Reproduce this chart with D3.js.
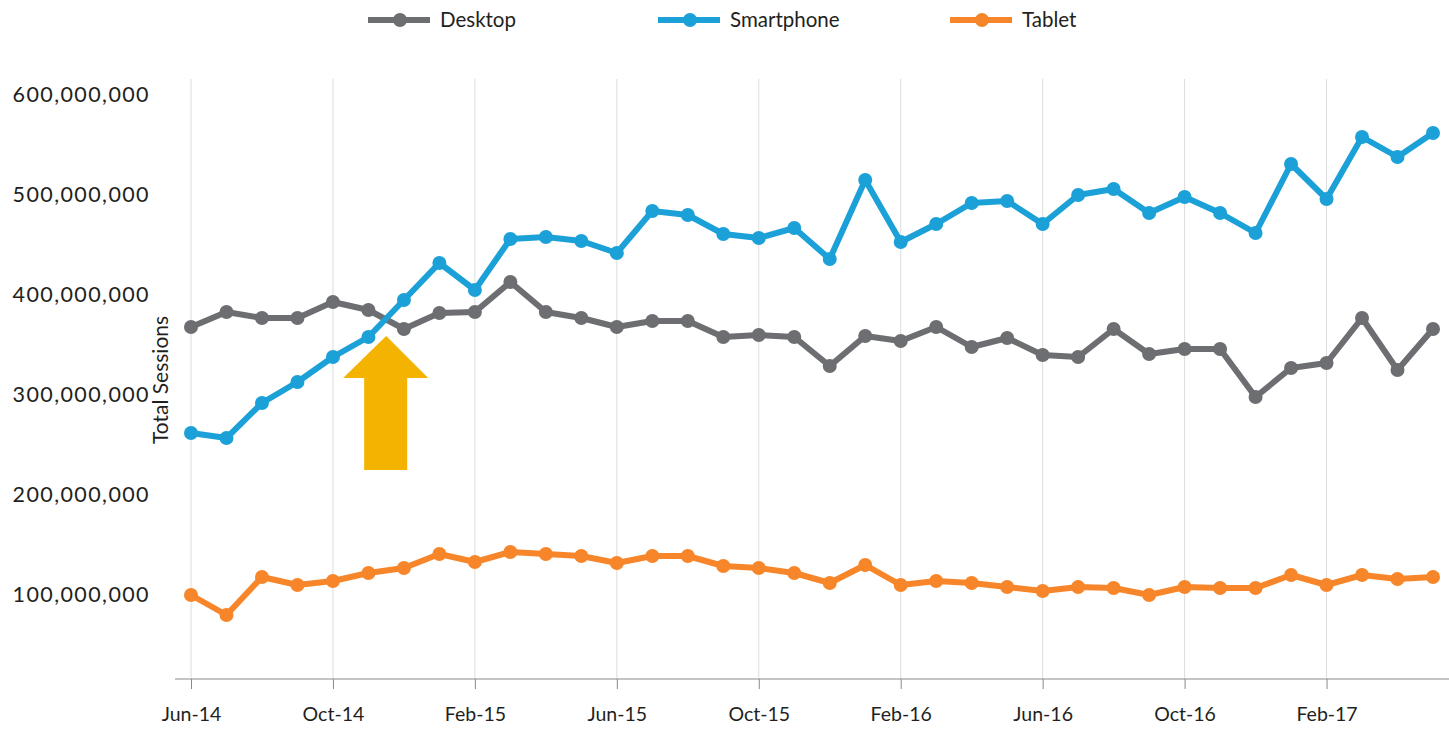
<!DOCTYPE html>
<html>
<head>
<meta charset="utf-8">
<script src="https://cdn.jsdelivr.net/npm/d3@7"></script>
<style>
  body { margin: 0; background: #fff; }
  svg text { font-family: Lato, "Open Sans", sans-serif; fill: #231f20; }
</style>
</head>
<body>
<div id="chart"></div>
<script>
// monthly sessions, Jun-14 .. May-17 (millions)
var months = ["Jun-14","Jul-14","Aug-14","Sep-14","Oct-14","Nov-14","Dec-14","Jan-15","Feb-15","Mar-15","Apr-15","May-15",
              "Jun-15","Jul-15","Aug-15","Sep-15","Oct-15","Nov-15","Dec-15","Jan-16","Feb-16","Mar-16","Apr-16","May-16",
              "Jun-16","Jul-16","Aug-16","Sep-16","Oct-16","Nov-16","Dec-16","Jan-17","Feb-17","Mar-17","Apr-17","May-17"];

var desktop = [368,383,377,377,393,385,366,382,383,413,383,377,
               368,374,374,358,360,358,329,359,354,368,348,357,
               340,338,366,341,346,346,298,327,332,377,325,366];

var smartphone = [262,257,292,313,338,358,395,432,405,456,458,454,
                  442,484,480,461,457,467,436,515,453,471,492,494,
                  471,500,506,482,498,482,462,531,496,558,538,562];

var tablet = [100,80,118,110,114,122,127,141,133,143,141,139,
              132,139,139,129,127,122,112,130,110,114,112,108,
              104,108,107,100,108,107,107,120,110,120,116,118];

var seriesNames = ["Desktop", "Smartphone", "Tablet"];
var seriesColors = ["#6d6e71", "#1ba1d8", "#f7862a"];
var yTicks = [100, 200, 300, 400, 500, 600];
var xTickEvery = 4;

var width = 1449, height = 729;

var svg = d3.select("#chart").append("svg")
  .attr("width", width)
  .attr("height", height);

var x = d3.scaleLinear()
  .domain([0, months.length - 1])
  .range([191, 1433]);

var y = d3.scaleLinear()
  .domain([16, 616])
  .range([679, 79]);

var xTickIdx = d3.range(0, months.length, xTickEvery);

// vertical gridlines
svg.append("g").selectAll("line")
  .data(xTickIdx).enter()
  .append("line")
  .attr("x1", function(d) { return x(d); })
  .attr("x2", function(d) { return x(d); })
  .attr("y1", y(616))
  .attr("y2", y(16))
  .style("stroke", "#dcdcdc")
  .style("stroke-width", 1);

// x axis
var xAxis = d3.axisBottom(x)
  .tickValues(xTickIdx)
  .tickFormat(function(i) { return months[i]; })
  .tickSizeInner(10)
  .tickSizeOuter(0)
  .tickPadding(18);

var gx = svg.append("g")
  .attr("transform", "translate(0," + y(16) + ")")
  .call(xAxis);
gx.select(".domain").remove();
gx.selectAll(".tick line").style("stroke", "#8a8a8a");
gx.selectAll("text").style("font-size", "19.5px");
gx.append("line")
  .attr("x1", 175).attr("x2", width)
  .style("stroke", "#8a8a8a")
  .style("stroke-width", 1.2);

// y axis labels
var yAxis = d3.axisLeft(y)
  .tickValues(yTicks)
  .tickFormat(function(d) { return d3.format(",")(d * 1e6); })
  .tickSize(0)
  .tickPadding(0);

var gy = svg.append("g")
  .attr("transform", "translate(150,0)")
  .call(yAxis);
gy.select(".domain").remove();
gy.selectAll("text")
  .style("font-size", "21.5px")
  .style("letter-spacing", "1.4px");

svg.append("text")
  .attr("transform", "translate(168," + 380 + ") rotate(-90)")
  .attr("text-anchor", "middle")
  .style("font-size", "21px")
  .text("Total Sessions");

// lines and markers
var line = d3.line()
  .x(function(d, i) { return x(i); })
  .y(function(d) { return y(d); });

[desktop, smartphone, tablet].forEach(function(vals, k) {
  var g = svg.append("g");
  g.append("path")
    .attr("d", line(vals))
    .style("fill", "none")
    .style("stroke", seriesColors[k])
    .style("stroke-width", 6)
    .style("stroke-linejoin", "round");
  g.selectAll("circle")
    .data(vals).enter()
    .append("circle")
    .attr("cx", function(d, i) { return x(i); })
    .attr("cy", function(d) { return y(d); })
    .attr("r", 7)
    .style("fill", seriesColors[k]);
});

// annotation arrow between Nov-14 and Dec-14
var ax = x(5.5);
var tip = y(359), headBase = y(317), tail = y(225);
svg.append("path")
  .attr("d", "M" + ax + "," + tip +
             "L" + (ax + 42) + "," + headBase +
             "L" + (ax + 21) + "," + headBase +
             "L" + (ax + 21) + "," + tail +
             "L" + (ax - 22) + "," + tail +
             "L" + (ax - 22) + "," + headBase +
             "L" + (ax - 43) + "," + headBase + "Z")
  .style("fill", "#f5b301");

// legend
var legendX = [368, 658, 950];
var legend = svg.append("g").selectAll("g")
  .data(seriesNames).enter()
  .append("g")
  .attr("transform", function(d, i) { return "translate(" + legendX[i] + ",20)"; });
legend.append("line")
  .attr("x1", 0).attr("x2", 62)
  .style("stroke", function(d, i) { return seriesColors[i]; })
  .style("stroke-width", 6);
legend.append("circle")
  .attr("cx", 32).attr("r", 7)
  .style("fill", function(d, i) { return seriesColors[i]; });
legend.append("text")
  .attr("x", 72)
  .attr("dy", "0.35em")
  .style("font-size", "20.5px")
  .text(function(d) { return d; });
</script>
</body>
</html>
